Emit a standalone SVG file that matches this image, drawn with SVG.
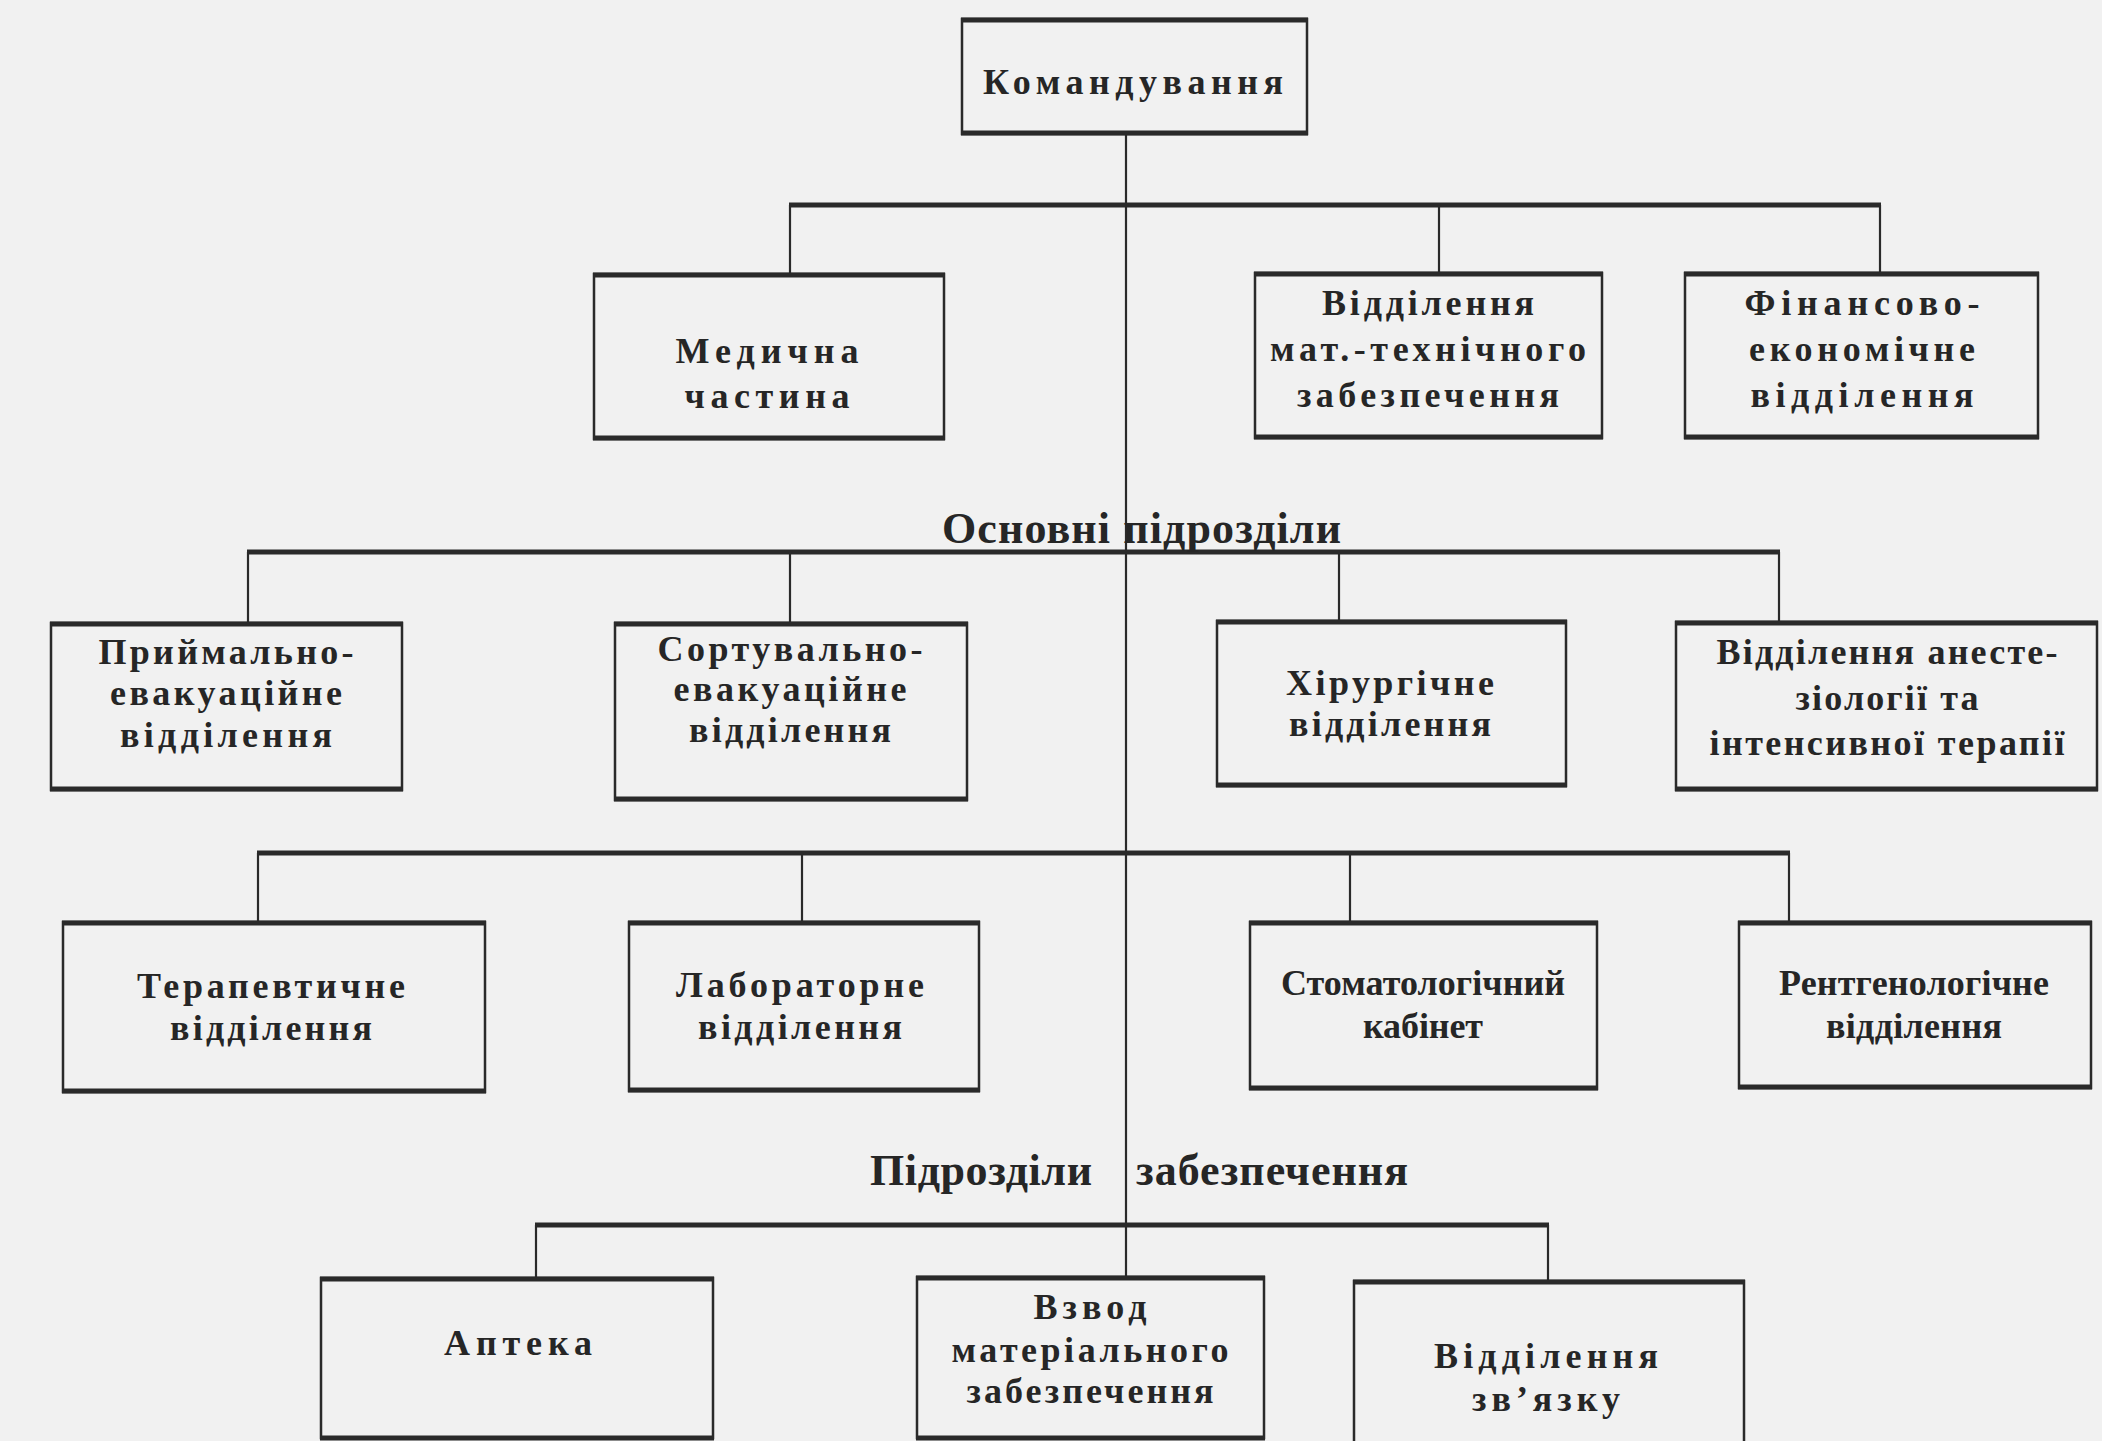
<svg xmlns="http://www.w3.org/2000/svg" width="2102" height="1441" viewBox="0 0 2102 1441">
<style>
.bg{fill:#f1f1f1}
.box{fill:none;stroke:#2a2a2a;stroke-width:2.5}
.edge{stroke:#2a2a2a;stroke-width:5}
.bar{stroke:#2a2a2a;stroke-width:5;fill:none}
.v{stroke:#2a2a2a;stroke-width:2.2;fill:none}
.t{font-family:"Liberation Serif","Times New Roman",serif;font-weight:bold;font-size:36px;fill:#262626;text-anchor:middle}
.h{font-family:"Liberation Serif","Times New Roman",serif;font-weight:bold;font-size:44px;fill:#262626}
</style>
<rect class="bg" x="0" y="0" width="2102" height="1441"/>

<g id="connectors">
<line class="v" x1="1126" y1="134" x2="1126" y2="1277"/>
<line class="bar" x1="789" y1="205" x2="1881" y2="205"/>
<line class="v" x1="790" y1="205" x2="790" y2="274"/>
<line class="v" x1="1439" y1="205" x2="1439" y2="273"/>
<line class="v" x1="1880" y1="205" x2="1880" y2="273"/>
<line class="bar" x1="247" y1="552" x2="1780" y2="552"/>
<line class="v" x1="248" y1="552" x2="248" y2="623"/>
<line class="v" x1="790" y1="552" x2="790" y2="623"/>
<line class="v" x1="1339" y1="552" x2="1339" y2="621"/>
<line class="v" x1="1779" y1="552" x2="1779" y2="622"/>
<line class="bar" x1="257" y1="853" x2="1790" y2="853"/>
<line class="v" x1="258" y1="853" x2="258" y2="922"/>
<line class="v" x1="802" y1="853" x2="802" y2="922"/>
<line class="v" x1="1350" y1="853" x2="1350" y2="922"/>
<line class="v" x1="1789" y1="853" x2="1789" y2="922"/>
<line class="bar" x1="535" y1="1225" x2="1549" y2="1225"/>
<line class="v" x1="536" y1="1225" x2="536" y2="1278"/>
<line class="v" x1="1548" y1="1225" x2="1548" y2="1281"/>
</g>

<g id="n-komanduvannia">
<rect class="box" x="962" y="19" width="345" height="115"/>
<line class="edge" x1="961" y1="20" x2="1308" y2="20"/><line class="edge" x1="961" y1="133" x2="1308" y2="133"/>
<text class="t" x="1133" y="94" textLength="300" lengthAdjust="spacing">Командування</text>
</g>

<g id="n-medychna">
<rect class="box" x="594" y="274" width="350" height="165"/>
<line class="edge" x1="593" y1="275" x2="945" y2="275"/><line class="edge" x1="593" y1="438" x2="945" y2="438"/>
<text class="t" x="767" y="363" textLength="183" lengthAdjust="spacing">Медична</text>
<text class="t" x="767" y="408" textLength="165" lengthAdjust="spacing">частина</text>
</g>

<g id="n-mat-tekh">
<rect class="box" x="1255" y="273" width="347" height="165"/>
<line class="edge" x1="1254" y1="274" x2="1603" y2="274"/><line class="edge" x1="1254" y1="437" x2="1603" y2="437"/>
<text class="t" x="1428" y="315" textLength="212" lengthAdjust="spacing">Відділення</text>
<text class="t" x="1428" y="361" textLength="316" lengthAdjust="spacing">мат.-технічного</text>
<text class="t" x="1428" y="407" textLength="262" lengthAdjust="spacing">забезпечення</text>
</g>

<g id="n-finansovo">
<rect class="box" x="1685" y="273" width="353" height="165"/>
<line class="edge" x1="1684" y1="274" x2="2039" y2="274"/><line class="edge" x1="1684" y1="437" x2="2039" y2="437"/>
<text class="t" x="1862" y="315" textLength="235" lengthAdjust="spacing">Фінансово-</text>
<text class="t" x="1862" y="361" textLength="226" lengthAdjust="spacing">економічне</text>
<text class="t" x="1862" y="407" textLength="223" lengthAdjust="spacing">відділення</text>
</g>

<g id="h-osnovni">
<text class="h" x="942" y="543" textLength="399" lengthAdjust="spacing">Основні підрозділи</text>
</g>

<g id="n-pryimalno">
<rect class="box" x="51" y="623" width="351" height="167"/>
<line class="edge" x1="50" y1="624" x2="403" y2="624"/><line class="edge" x1="50" y1="789" x2="403" y2="789"/>
<text class="t" x="226" y="664" textLength="255" lengthAdjust="spacing">Приймально-</text>
<text class="t" x="226" y="705" textLength="232" lengthAdjust="spacing">евакуаційне</text>
<text class="t" x="226" y="747" textLength="212" lengthAdjust="spacing">відділення</text>
</g>

<g id="n-sortuvalno">
<rect class="box" x="615" y="623" width="352" height="177"/>
<line class="edge" x1="614" y1="624" x2="968" y2="624"/><line class="edge" x1="614" y1="799" x2="968" y2="799"/>
<text class="t" x="790" y="661" textLength="265" lengthAdjust="spacing">Сортувально-</text>
<text class="t" x="790" y="701" textLength="233" lengthAdjust="spacing">евакуаційне</text>
<text class="t" x="790" y="742" textLength="202" lengthAdjust="spacing">відділення</text>
</g>

<g id="n-khirurhichne">
<rect class="box" x="1217" y="621" width="349" height="165"/>
<line class="edge" x1="1216" y1="622" x2="1567" y2="622"/><line class="edge" x1="1216" y1="785" x2="1567" y2="785"/>
<text class="t" x="1390" y="695" textLength="208" lengthAdjust="spacing">Хірургічне</text>
<text class="t" x="1390" y="736" textLength="202" lengthAdjust="spacing">відділення</text>
</g>

<g id="n-anesteziolohii">
<rect class="box" x="1676" y="622" width="421" height="168"/>
<line class="edge" x1="1675" y1="623" x2="2098" y2="623"/><line class="edge" x1="1675" y1="789" x2="2098" y2="789"/>
<text class="t" x="1887" y="664" textLength="341" lengthAdjust="spacing">Відділення анесте-</text>
<text class="t" x="1887" y="710" textLength="183" lengthAdjust="spacing">зіології та</text>
<text class="t" x="1887" y="755" textLength="355" lengthAdjust="spacing">інтенсивної терапії</text>
</g>

<g id="n-terapevtychne">
<rect class="box" x="63" y="922" width="422" height="170"/>
<line class="edge" x1="62" y1="923" x2="486" y2="923"/><line class="edge" x1="62" y1="1091" x2="486" y2="1091"/>
<text class="t" x="271" y="998" textLength="268" lengthAdjust="spacing">Терапевтичне</text>
<text class="t" x="271" y="1040" textLength="202" lengthAdjust="spacing">відділення</text>
</g>

<g id="n-laboratorne">
<rect class="box" x="629" y="922" width="350" height="169"/>
<line class="edge" x1="628" y1="923" x2="980" y2="923"/><line class="edge" x1="628" y1="1090" x2="980" y2="1090"/>
<text class="t" x="800" y="997" textLength="248" lengthAdjust="spacing">Лабораторне</text>
<text class="t" x="800" y="1039" textLength="204" lengthAdjust="spacing">відділення</text>
</g>

<g id="n-stomatolohichnyi">
<rect class="box" x="1250" y="922" width="347" height="167"/>
<line class="edge" x1="1249" y1="923" x2="1598" y2="923"/><line class="edge" x1="1249" y1="1088" x2="1598" y2="1088"/>
<text class="t" x="1423" y="995" textLength="284" lengthAdjust="spacing">Стоматологічний</text>
<text class="t" x="1423" y="1038" textLength="120" lengthAdjust="spacing">кабінет</text>
</g>

<g id="n-rentgenolohichne">
<rect class="box" x="1739" y="922" width="352" height="166"/>
<line class="edge" x1="1738" y1="923" x2="2092" y2="923"/><line class="edge" x1="1738" y1="1087" x2="2092" y2="1087"/>
<text class="t" x="1914" y="995" textLength="270" lengthAdjust="spacing">Рентгенологічне</text>
<text class="t" x="1914" y="1038" textLength="176" lengthAdjust="spacing">відділення</text>
</g>

<g id="h-zabezpechennia">
<text class="h" x="870" y="1185" textLength="222" lengthAdjust="spacing">Підрозділи</text>
<text class="h" x="1136" y="1185" textLength="272" lengthAdjust="spacing">забезпечення</text>
</g>

<g id="n-apteka">
<rect class="box" x="321" y="1278" width="392" height="160"/>
<line class="edge" x1="320" y1="1279" x2="714" y2="1279"/><line class="edge" x1="320" y1="1438" x2="714" y2="1438"/>
<text class="t" x="518" y="1355" textLength="148" lengthAdjust="spacing">Аптека</text>
</g>

<g id="n-vzvod">
<rect class="box" x="917" y="1277" width="347" height="161"/>
<line class="edge" x1="916" y1="1278" x2="1265" y2="1278"/><line class="edge" x1="916" y1="1438" x2="1265" y2="1438"/>
<text class="t" x="1090" y="1319" textLength="113" lengthAdjust="spacing">Взвод</text>
<text class="t" x="1090" y="1362" textLength="277" lengthAdjust="spacing">матеріального</text>
<text class="t" x="1090" y="1403" textLength="247" lengthAdjust="spacing">забезпечення</text>
</g>

<g id="n-zviazku">
<rect class="box" x="1354" y="1281" width="390" height="170"/>
<line class="edge" x1="1353" y1="1282" x2="1745" y2="1282"/>
<text class="t" x="1546" y="1368" textLength="224" lengthAdjust="spacing">Відділення</text>
<text class="t" x="1546" y="1411" textLength="148" lengthAdjust="spacing">зв’язку</text>
</g>
</svg>
